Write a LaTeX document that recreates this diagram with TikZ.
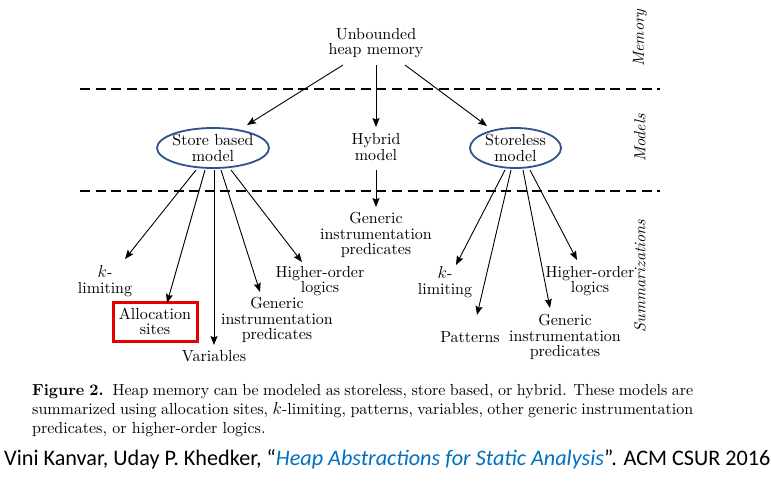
\documentclass[tikz,border=0pt]{standalone}
\usepackage{fontspec}
\setmainfont{lmroman10-regular.otf}[BoldFont=lmroman10-bold.otf, ItalicFont=lmroman10-italic.otf, BoldItalicFont=lmroman10-bolditalic.otf]
\newfontfamily\carlito{Carlito}
\usetikzlibrary{arrows.meta,calc,shapes.geometric}
\definecolor{ellblue}{RGB}{47,82,143}
\definecolor{boxred}{RGB}{232,0,0}
\definecolor{linkblue}{RGB}{0,112,192}
\begin{document}
\begin{tikzpicture}[x=1pt,y=-1pt,
  lbl/.style={inner sep=0pt, align=center, font=\fontsize{16}{15.5}\selectfont},
  ellline/.style={draw=ellblue, line width=1.8pt},
  arr/.style={line width=0.9pt, -{Stealth[length=9pt,width=7pt,inset=1.5pt]}},
  sepline/.style={line width=1.6pt, dash pattern=on 10pt off 5.6pt},
  side/.style={rotate=90, inner sep=0pt, font=\fontsize{16}{16}\selectfont\itshape},
  capt/.style={anchor=base west, inner sep=0pt, font=\fontsize{16}{19}\selectfont},
  redbox/.style={draw=boxred, line width=3pt, minimum width=84pt, minimum height=39pt, inner sep=0pt, align=center, font=\fontsize{16}{15.5}\selectfont}]
\useasboundingbox[fill=white] (0,0) rectangle (771,485);

% separators
\coordinate (d1a) at (80,89); \coordinate (d1b) at (660,89);
\coordinate (d2a) at (80,191); \coordinate (d2b) at (660,191);
\draw[sepline] (d1a) -- (d1b);
\draw[sepline] (d2a) -- (d2b);

% side labels
\node[side] (mem) at (640,38) {Memory};
\node[side] (mod) at (640,138) {Models};
\node[side] (sum) at (640,276) {Summarizations};

% nodes
\node[lbl] (um) at (376,43) {Unbounded\\heap memory};
\node[lbl] (sb) at (213,148) {Store based\\model};
\draw[ellline] (sb) ellipse [x radius=56pt, y radius=20pt];
\node[lbl] (hy) at (376,147) {Hybrid\\model};
\node[lbl] (sl) at (515.5,148) {Storeless\\model};
\draw[ellline] (sl) ellipse [x radius=45.5pt, y radius=20pt];
\node[lbl] (gh) at (376,235) {Generic\\instrumentation\\predicates};

\node[lbl] (kl1) at (105,281) {$k$-\\limiting};
\node[redbox] (as) at (155,321.5) {Allocation\\sites};
\node[lbl] (va) at (214,356) {Variables};
\node[lbl] (gs) at (277,320) {Generic\\instrumentation\\predicates};
\node[lbl] (ho1) at (320,281) {Higher-order\\logics};

\node[lbl] (kl2) at (445,282) {$k$-\\limiting};
\node[lbl] (pa) at (470,337) {Patterns};
\node[lbl] (gl) at (565,337) {Generic\\instrumentation\\predicates};
\node[lbl] (ho2) at (590,281) {Higher-order\\logics};

% arrows from memory
\draw[arr] ($(um)+(-33,22)$) -- ($(sb)+(34,-23)$);
\draw[arr] ($(um)+(0,22)$) -- ($(hy)+(0,-20)$);
\draw[arr] ($(um)+(29,22)$) -- ($(sl)+(-28.5,-22)$);
\draw[arr] ($(hy)+(0,23)$) -- ($(gh)+(0,-28)$);

% store based
\draw[arr] ($(sb)+(-17,22)$) -- ($(kl1)+(20,-22)$);
\draw[arr] ($(sb)+(-8,22)$) -- ($(as)+(12,-18.5)$);
\draw[arr] ($(sb)+(1,22)$) -- ($(va)+(0,-11)$);
\draw[arr] ($(sb)+(8,22)$) -- ($(gs)+(-17,-28)$);
\draw[arr] ($(sb)+(18,22)$) -- ($(ho1)+(-18,-19)$);

% storeless
\draw[arr] ($(sl)+(-10.5,22)$) -- ($(kl2)+(11,-17)$);
\draw[arr] ($(sl)+(-4.5,22)$) -- ($(pa)+(7,-22)$);
\draw[arr] ($(sl)+(7.5,22)$) -- ($(gl)+(-15,-29)$);
\draw[arr] ($(sl)+(14.5,22)$) -- ($(ho2)+(-13,-21)$);

% caption
\node[capt] (cap1) at (32,395)
  {\makebox[661pt][s]{\textbf{Figure 2.}\ \ Heap memory can be modeled as storeless, store based, or hybrid. These models are}};
\node[capt] (cap2) at (32,414)
  {\makebox[661pt][s]{summarized using allocation sites, $k$-limiting, patterns, variables, other generic instrumentation}};
\node[capt] (cap3) at (32,433)
  {predicates, or higher-order logics.};

\node[anchor=base west, inner sep=0pt, font=\carlito\fontsize{22.2}{26}\selectfont] (cite) at (4,465)
  {Vini Kanvar, Uday P. Khedker, “\textcolor{linkblue}{\itshape Heap Abstractions for Static Analysis}”. ACM CSUR 2016};
\end{tikzpicture}
\end{document}
